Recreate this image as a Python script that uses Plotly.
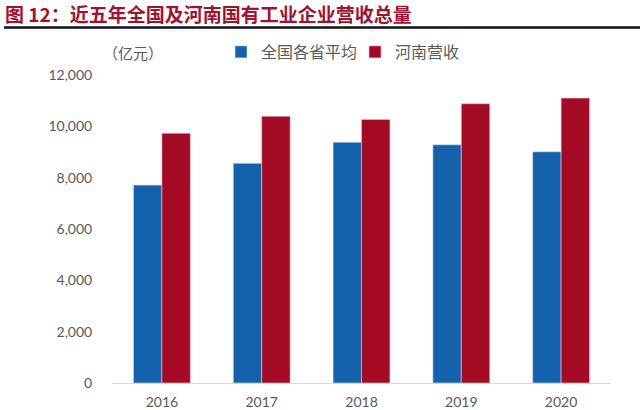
import plotly.graph_objects as go

years = ["2016", "2017", "2018", "2019", "2020"]
national_avg = [7710, 8560, 9380, 9280, 9010]
henan = [9730, 10390, 10270, 10880, 11100]
series_names = ["全国各省平均", "河南营收"]
y_ticks = [0, 2000, 4000, 6000, 8000, 10000, 12000]

BLUE = "#1462AC"
RED = "#A50A24"

W, H = 640, 410
L, R, T, B = 112, 29, 75, 27
pw = W - L - R
ph = H - T - B

def px_x(px):
    return (px - L) / pw

def px_y(py):
    return (H - B - py) / ph

fig = go.Figure()
fig.add_trace(go.Bar(x=years, y=national_avg, name=series_names[0], marker_color=BLUE,
                     marker_line_width=0.6, marker_line_color="#d8e4f2"))
fig.add_trace(go.Bar(x=years, y=henan, name=series_names[1], marker_color=RED,
                     marker_line_width=0.6, marker_line_color="#e8c8cf"))

fig.update_layout(
    width=W, height=H,
    margin=dict(l=L, r=R, t=T, b=B, autoexpand=False),
    paper_bgcolor="white", plot_bgcolor="white",
    barmode="group", bargap=0.43, bargroupgap=0,
    font=dict(family="Lato, 'Noto Sans CJK SC', sans-serif", color="#595959", size=14),
    title=dict(text="<b>图 12：近五年全国及河南国有工业企业营收总量</b>",
               xref="container", yref="container", x=5 / W, y=1 - 15 / H,
               xanchor="left", yanchor="middle", pad=dict(l=0, r=0, t=0, b=0),
               font=dict(family="'Noto Sans CJK SC', sans-serif", size=19, color="#A5102E")),
    legend=dict(orientation="h", x=px_x(221), y=px_y(52), xanchor="left", yanchor="middle",
                font=dict(family="'Noto Sans CJK SC', sans-serif", size=16, color="#595959"),
                itemwidth=30, entrywidthmode="pixels", entrywidth=89,
                tracegroupgap=0, bgcolor="rgba(0,0,0,0)"),
    showlegend=True,
    shapes=[dict(type="line", xref="paper", yref="paper",
                 x0=px_x(4), x1=px_x(640), y0=px_y(27.5), y1=px_y(27.5),
                 line=dict(color="#111111", width=2.5))],
    annotations=[dict(text="（亿元）", xref="paper", yref="paper",
                      x=px_x(101), y=px_y(52), xanchor="left", yanchor="middle",
                      showarrow=False,
                      font=dict(family="'Noto Sans CJK SC', sans-serif", size=15, color="#595959"))],
)

fig.update_xaxes(showgrid=False, showline=True, linecolor="#d9d9d9", linewidth=1.2,
                 ticks="outside", ticklen=6, tickcolor="rgba(0,0,0,0)", automargin=False,
                 tickfont=dict(family="Lato, sans-serif", size=14, color="#595959"))
fig.update_yaxes(range=[0, 12000], tickvals=y_ticks, tickformat=",", showgrid=False,
                 zeroline=False, showline=False, automargin=False,
                 ticks="outside", ticklen=16, tickcolor="rgba(0,0,0,0)",
                 tickfont=dict(family="Lato, sans-serif", size=14, color="#595959"))

fig.write_html("out.html",
               config={"displayModeBar": False},
               post_script="document.body.style.margin='0';document.body.style.overflow='hidden';")
